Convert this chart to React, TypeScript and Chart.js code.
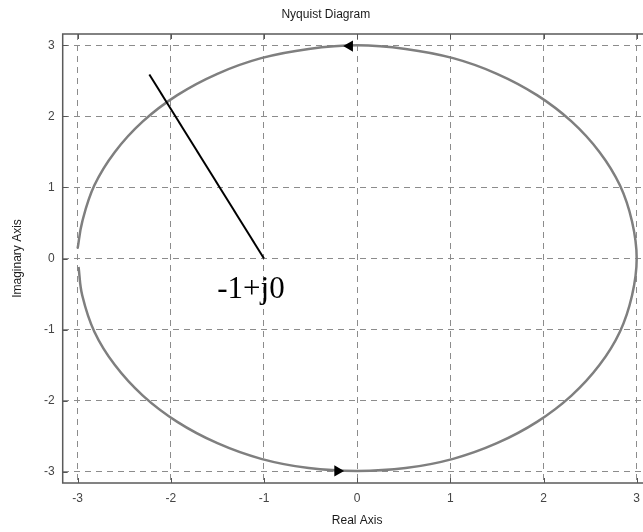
import React, { useEffect, useRef } from "react";
import { Chart, registerables } from "chart.js";

Chart.register(...registerables);

const TITLE = "Nyquist Diagram";
const X_TITLE = "Real Axis";
const Y_TITLE = "Imaginary Axis";

const X_TICKS = [-3, -2, -1, 0, 1, 2, 3];
const Y_TICKS = [-3, -2, -1, 0, 1, 2, 3];
const X_TICK_LABELS = ["-3", "-2", "-1", "0", "1", "2", "3"];
const Y_TICK_LABELS = ["-3", "-2", "-1", "0", "1", "2", "3"];
const X_LIMITS = [-3.16, 3.16];
const Y_LIMITS = [-3.16, 3.16];

// Nyquist locus, traced counter-clockwise: real and imaginary parts
const LOCUS_RE = [
  -2.99, -2.95, -2.82, -2.6, -2.3, -1.93, -1.5, -1.03, -0.52, 0.0, 0.52, 1.03,
  1.5, 1.93, 2.3, 2.6, 2.82, 2.95, 3.0, 2.95, 2.82, 2.6, 2.3, 1.93, 1.5, 1.03,
  0.52, 0.0, -0.52, -1.03, -1.5, -1.93, -2.3, -2.6, -2.82, -2.95, -3.0,
];
const LOCUS_IM = [
  -0.12, -0.52, -1.03, -1.5, -1.93, -2.3, -2.6, -2.82, -2.95, -2.99, -2.95,
  -2.82, -2.6, -2.3, -1.93, -1.5, -1.03, -0.52, 0.0, 0.52, 1.03, 1.5, 1.93, 2.3,
  2.6, 2.82, 2.95, 3.0, 2.95, 2.82, 2.6, 2.3, 1.93, 1.5, 1.03, 0.52, 0.14,
];

// Vector drawn from the critical point out to the locus
const VECTOR_RE = [-2.23, -1];
const VECTOR_IM = [2.59, 0];

// Direction arrows on the locus (rotation in degrees, 0 = pointing up)
const ARROW_RE = [-0.08, -0.21];
const ARROW_IM = [2.99, -2.99];
const ARROW_ROT = [-90, 90];

// Critical point annotation
const CRIT_RE = -1;
const CRIT_IM = 0;
const CRIT_TEXT = "-1+j0";

const SANS = '"Liberation Sans", Arial, Helvetica, sans-serif';

const framePlugin = {
  id: "matlabFrame",
  afterDatasetsDraw(chart: any) {
    const { ctx, chartArea: a, scales } = chart;
    const xs = scales.x;
    const ys = scales.y;
    ctx.save();
    // inward tick marks on all four sides
    ctx.strokeStyle = "#555555";
    ctx.lineWidth = 1;
    const tl = 5;
    ctx.beginPath();
    X_TICKS.forEach((v) => {
      const px = Math.round(xs.getPixelForValue(v)) + 0.5;
      ctx.moveTo(px, a.bottom);
      ctx.lineTo(px, a.bottom - tl);
      ctx.moveTo(px, a.top);
      ctx.lineTo(px, a.top + tl);
    });
    Y_TICKS.forEach((v) => {
      const py = Math.round(ys.getPixelForValue(v)) + 0.5;
      ctx.moveTo(a.left, py);
      ctx.lineTo(a.left + tl, py);
      ctx.moveTo(a.right, py);
      ctx.lineTo(a.right - tl, py);
    });
    ctx.stroke();
    // axes box
    ctx.lineWidth = 1.5;
    ctx.strokeStyle = "#5a5a5a";
    ctx.strokeRect(a.left, a.top, a.right - a.left, a.bottom - a.top);
    // critical point label
    ctx.font = '31px "Liberation Serif", "Times New Roman", serif';
    ctx.fillStyle = "#000000";
    ctx.textAlign = "center";
    ctx.textBaseline = "alphabetic";
    ctx.fillText(
      CRIT_TEXT,
      xs.getPixelForValue(CRIT_RE) - 13,
      ys.getPixelForValue(CRIT_IM) + 39
    );
    ctx.restore();
  },
};

export default function App() {
  const canvasRef = useRef<HTMLCanvasElement | null>(null);

  useEffect(() => {
    const canvas = canvasRef.current;
    if (!canvas) return;

    const locus = LOCUS_RE.map((re, i) => ({ x: re, y: LOCUS_IM[i] }));
    const vector = VECTOR_RE.map((re, i) => ({ x: re, y: VECTOR_IM[i] }));
    const arrows = ARROW_RE.map((re, i) => ({ x: re, y: ARROW_IM[i] }));

    const grid = {
      color: "#8c8c8c",
      lineWidth: 1,
      drawTicks: false,
    };

    const chart = new Chart(canvas, {
      type: "scatter",
      data: {
        datasets: [
          {
            label: "arrows",
            data: arrows,
            showLine: false,
            pointStyle: "triangle",
            pointRadius: 6.5,
            pointRotation: ARROW_ROT,
            backgroundColor: "#000000",
            borderColor: "#000000",
            borderWidth: 0,
          },
          {
            label: "vector",
            data: vector,
            showLine: true,
            borderColor: "#000000",
            borderWidth: 2,
            pointRadius: 0,
          },
          {
            label: "locus",
            data: locus,
            showLine: true,
            borderColor: "#7f7f7f",
            borderWidth: 2.5,
            tension: 0.4,
            pointRadius: 0,
          },
        ],
      },
      options: {
        animation: false,
        responsive: false,
        layout: { padding: { left: 0, right: 8.4, top: 0, bottom: 0 } },
        plugins: {
          legend: { display: false },
          tooltip: { enabled: false },
          title: {
            display: true,
            text: TITLE,
            color: "#1a1a1a",
            font: { family: SANS, size: 12, weight: "normal" },
            padding: { top: 7, bottom: 12.6 },
          },
        },
        scales: {
          x: {
            type: "linear",
            min: X_LIMITS[0],
            max: X_LIMITS[1],
            afterBuildTicks: (s: any) => {
              s.ticks = X_TICKS.map((v) => ({ value: v }));
            },
            afterFit: (s: any) => {
              s.height = 49;
            },
            grid: { ...grid, borderDash: [6, 5] } as any,
            border: { display: false, dash: [6, 5] },
            ticks: {
              color: "#444444",
              font: { family: SANS, size: 12 },
              padding: 8,
              maxRotation: 0,
              callback: (_v: any, i: number) => X_TICK_LABELS[i],
            },
            title: {
              display: true,
              text: X_TITLE,
              color: "#1a1a1a",
              font: { family: SANS, size: 12 },
              padding: { top: 0, bottom: 3.8 },
            },
          },
          y: {
            type: "linear",
            min: Y_LIMITS[0],
            max: Y_LIMITS[1],
            afterBuildTicks: (s: any) => {
              s.ticks = Y_TICKS.map((v) => ({ value: v }));
            },
            afterFit: (s: any) => {
              s.width = 62.7;
            },
            grid: { ...grid } as any,
            border: { display: false, dash: [6, 5] },
            ticks: {
              color: "#444444",
              font: { family: SANS, size: 12 },
              padding: 8,
              callback: (_v: any, i: number) => Y_TICK_LABELS[i],
            },
            title: {
              display: true,
              text: Y_TITLE,
              color: "#1a1a1a",
              font: { family: SANS, size: 12 },
              padding: { top: 10, bottom: 0 },
            },
          },
        },
      },
      plugins: [framePlugin],
    } as any);

    return () => chart.destroy();
  }, []);

  return (
    <div
      style={{
        position: "fixed",
        left: 0,
        top: 0,
        width: 643,
        height: 532,
        overflow: "hidden",
        background: "#ffffff",
      }}
    >
      <canvas
        ref={canvasRef}
        width={660}
        height={532}
        style={{ width: 660, height: 532, display: "block" }}
      />
    </div>
  );
}
